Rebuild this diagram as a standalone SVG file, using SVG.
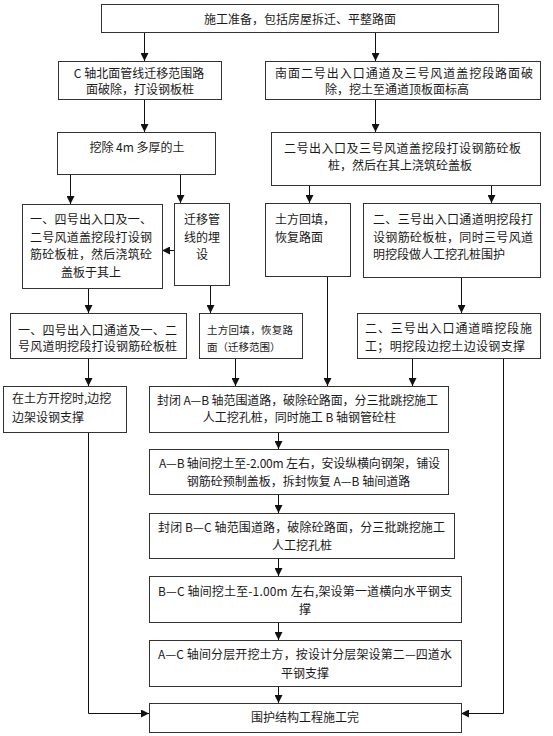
<svg xmlns="http://www.w3.org/2000/svg" width="553" height="736" viewBox="0 0 553 736">
<defs>
<style>
.b{fill:#fff;stroke:#333;stroke-width:1}
.c{fill:none;stroke:#111;stroke-width:1}
text{font-family:"Noto Sans CJK SC","Noto Sans",sans-serif;font-size:12px;fill:#1a1a1a}
.m{text-anchor:middle}
.s{font-size:10.5px}
</style>
<marker id="ah" markerUnits="userSpaceOnUse" markerWidth="9" markerHeight="8" refX="8" refY="4" orient="auto" viewBox="0 0 9 8">
<path d="M0,0 L8,4 L0,8 z" fill="#111"/>
</marker>
</defs>
<rect width="553" height="736" fill="#fff"/>
<g id="connectors">
<path class="c" d="M144.5,32 V61" marker-end="url(#ah)"/>
<path class="c" d="M375.5,32 V61" marker-end="url(#ah)"/>
<path class="c" d="M144.5,99 V132" marker-end="url(#ah)"/>
<path class="c" d="M375.5,99 V132" marker-end="url(#ah)"/>
<path class="c" d="M70.5,174 V204" marker-end="url(#ah)"/>
<path class="c" d="M180.5,174 V203" marker-end="url(#ah)"/>
<path class="c" d="M309.5,185 V203" marker-end="url(#ah)"/>
<path class="c" d="M491.5,185 V203" marker-end="url(#ah)"/>
<path class="c" d="M174,250.5 H162" marker-end="url(#ah)"/>
<path class="c" d="M88.5,288 V313" marker-end="url(#ah)"/>
<path class="c" d="M210.5,285 V313" marker-end="url(#ah)"/>
<path class="c" d="M327.5,276 V386" marker-end="url(#ah)"/>
<path class="c" d="M461.5,277 V313" marker-end="url(#ah)"/>
<path class="c" d="M88.5,358 V386" marker-end="url(#ah)"/>
<path class="c" d="M235.5,358 V386" marker-end="url(#ah)"/>
<path class="c" d="M412.5,358 V386" marker-end="url(#ah)"/>
<path class="c" d="M88.5,432 V713.5 H149" marker-end="url(#ah)"/>
<path class="c" d="M503.5,358 V713.5 H461" marker-end="url(#ah)"/>
<path class="c" d="M278.5,432 V449" marker-end="url(#ah)"/>
<path class="c" d="M278.5,494 V513" marker-end="url(#ah)"/>
<path class="c" d="M278.5,558 V576" marker-end="url(#ah)"/>
<path class="c" d="M278.5,622 V640" marker-end="url(#ah)"/>
<path class="c" d="M278.5,686 V703" marker-end="url(#ah)"/>
</g>
<g id="n1"><rect class="b" x="101.5" y="4.5" width="397" height="28"/>
<text class="m" x="300" y="23.5">施工准备，包括房屋拆迁、平整路面</text></g>
<g id="n2"><rect class="b" x="58.5" y="61.5" width="163" height="38"/>
<text class="m" x="139" y="77.5">C 轴北面管线迁移范围路</text>
<text class="m" x="140" y="93.5">面破除，打设钢板桩</text></g>
<g id="n3"><rect class="b" x="265.5" y="61.5" width="275" height="38"/>
<text x="275" y="77.5" textLength="258" lengthAdjust="spacing">南面二号出入口通道及三号风道盖挖段路面破</text>
<text class="m" x="397" y="93.5">除，挖土至通道顶板面标高</text></g>
<g id="n4"><rect class="b" x="57.5" y="132.5" width="158" height="42"/>
<text class="m" x="137" y="151.5">挖除 4m 多厚的土</text></g>
<g id="n5"><rect class="b" x="271.5" y="132.5" width="269" height="53"/>
<text x="284" y="152.5" textLength="237" lengthAdjust="spacing">二号出入口及三号风道盖挖段打设钢筋砼板</text>
<text class="m" x="400" y="169.5">桩，然后在其上浇筑砼盖板</text></g>
<g id="n6"><rect class="b" x="22.5" y="204.5" width="140" height="84"/>
<text x="30" y="223.5" textLength="122" lengthAdjust="spacing">一、四号出入口及一、</text>
<text x="30" y="241.5" textLength="122" lengthAdjust="spacing">二号风道盖挖段打设钢</text>
<text x="30" y="258.5" textLength="122" lengthAdjust="spacing">筋砼板桩，然后浇筑砼</text>
<text class="m" x="91" y="276.5">盖板于其上</text></g>
<g id="n7"><rect class="b" x="174.5" y="203.5" width="55" height="82"/>
<text class="m" x="202" y="223.5">迁移管</text>
<text class="m" x="202" y="241.5">线的埋</text>
<text class="m" x="202" y="258.5">设</text></g>
<g id="n8"><rect class="b" x="265.5" y="203.5" width="85" height="73"/>
<text x="275" y="223.5">土方回填，</text>
<text x="275" y="241.5">恢复路面</text></g>
<g id="n9"><rect class="b" x="363.5" y="203.5" width="177" height="74"/>
<text x="373" y="223.5" textLength="160" lengthAdjust="spacing">二、三号出入口通道明挖段打</text>
<text x="373" y="241.5" textLength="160" lengthAdjust="spacing">设钢筋砼板桩，同时三号风道</text>
<text x="373" y="258.5">明挖段做人工挖孔桩围护</text></g>
<g id="n10"><rect class="b" x="10.5" y="313.5" width="176" height="45"/>
<text x="18" y="334.5" textLength="159" lengthAdjust="spacing">一、四号出入口通道及一、二</text>
<text x="18" y="351" textLength="159" lengthAdjust="spacing">号风道明挖段打设钢筋砼板桩</text></g>
<g id="n11"><rect class="b" x="199.5" y="313.5" width="103" height="45"/>
<text class="s" x="207" y="334" textLength="86" lengthAdjust="spacing">土方回填，恢复路</text>
<text class="s" x="207" y="350.5">面（迁移范围）</text></g>
<g id="n12"><rect class="b" x="357.5" y="313.5" width="183" height="45"/>
<text x="365" y="332.5" textLength="167" lengthAdjust="spacing">二、三号出入口通道暗挖段施</text>
<text x="365" y="350.5" textLength="160" lengthAdjust="spacing">工；明挖段边挖土边设钢支撑</text></g>
<g id="n13"><rect class="b" x="3.5" y="386.5" width="123" height="46"/>
<text x="12" y="402.5">在土方开挖时,边挖</text>
<text x="12" y="421.5">边架设钢支撑</text></g>
<g id="n14"><rect class="b" x="149.5" y="386.5" width="299" height="46"/>
<text x="157" y="404.5" textLength="281" lengthAdjust="spacing">封闭 A—B 轴范围道路，破除砼路面，分三批跳挖施工</text>
<text class="m" x="299.5" y="421.5">人工挖孔桩，同时施工 B 轴钢管砼柱</text></g>
<g id="n15"><rect class="b" x="149.5" y="449.5" width="299" height="45"/>
<text x="159" y="467.5" textLength="281" lengthAdjust="spacing">A—B 轴间挖土至-2.00m 左右，安设纵横向钢架，铺设</text>
<text class="m" x="298.5" y="485.5">钢筋砼预制盖板，拆封恢复 A—B 轴间道路</text></g>
<g id="n16"><rect class="b" x="149.5" y="513.5" width="305" height="45"/>
<text x="158" y="531.5" textLength="287" lengthAdjust="spacing">封闭 B—C 轴范围道路，破除砼路面，分三批跳挖施工</text>
<text class="m" x="302" y="549.5">人工挖孔桩</text></g>
<g id="n17"><rect class="b" x="149.5" y="576.5" width="312" height="46"/>
<text x="158" y="595.5" textLength="294" lengthAdjust="spacing">B—C 轴间挖土至-1.00m 左右,架设第一道横向水平钢支</text>
<text class="m" x="305" y="613.5">撑</text></g>
<g id="n18"><rect class="b" x="149.5" y="640.5" width="312" height="46"/>
<text x="158" y="658.5" textLength="294" lengthAdjust="spacing">A—C 轴间分层开挖土方，按设计分层架设第二—四道水</text>
<text class="m" x="305" y="677.5">平钢支撑</text></g>
<g id="n19"><rect class="b" x="149.5" y="703.5" width="312" height="29"/>
<text class="m" x="305" y="721.5">围护结构工程施工完</text></g>
</svg>
